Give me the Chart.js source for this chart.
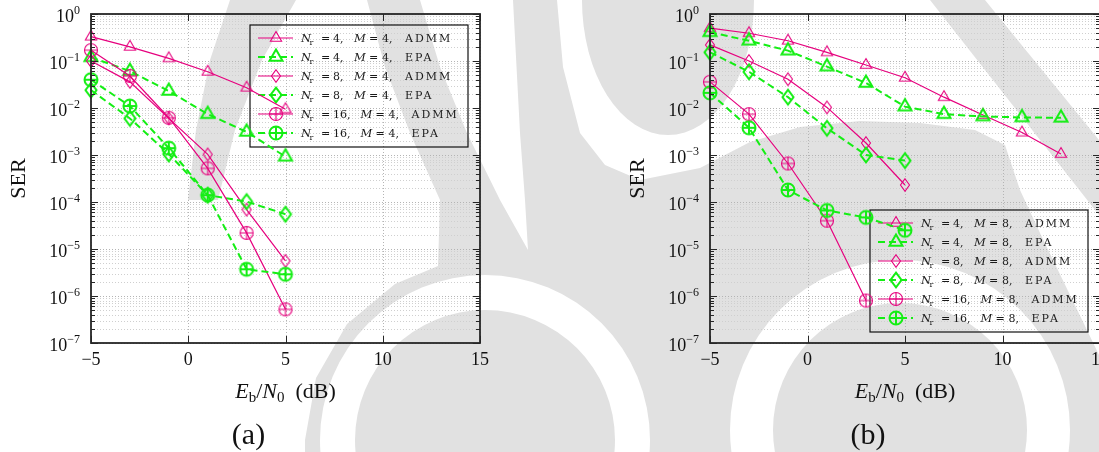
<!DOCTYPE html>
<html>
<head>
<meta charset="utf-8">
<script src="https://cdn.jsdelivr.net/npm/chart.js@4.4.1/dist/chart.umd.min.js"></script>
<style>
  html, body { margin: 0; padding: 0; background: #fff; overflow: hidden }
  body { position: relative; width: 1099px; height: 452px }
  canvas { position: absolute; top: 0 }
</style>
</head>
<body>
<canvas id="watermark" width="1099" height="452" style="left:0"></canvas>
<canvas id="chartA" width="549" height="452" style="left:0"></canvas>
<canvas id="chartB" width="560" height="452" style="left:549px"></canvas>
<script>
const xTicks = [-5, 0, 5, 10, 15]
const decades = [0, -1, -2, -3, -4, -5, -6, -7]

// (a) M = 4
const snrA = [-5, -3, -1, 1, 3, 5]
const serA4Admm = [0.33, 0.2, 0.114, 0.059, 0.027, 0.0094]
const serA4Epa = [0.12, 0.061, 0.023, 0.0074, 0.0031, 0.00092]
const serA8Admm = [0.1, 0.036, 0.006, 0.00103, 0.000069, 0.0000056]
const serA8Epa = [0.024, 0.006, 0.00105, 0.00014, 0.000102, 0.000055]
const serA16Admm = [0.17, 0.048, 0.0062, 0.00052, 0.000022, 0.00000052]
const serA16Epa = [0.04, 0.011, 0.0014, 0.00014, 0.0000037, 0.0000029]

// (b) M = 8
const snrB = [-5, -3, -1, 1, 3, 5, 7, 9, 11, 13]
const serB4Admm = [0.5, 0.39, 0.27, 0.153, 0.082, 0.044, 0.017, 0.0071, 0.003, 0.00105]
const serB4Epa = [0.41, 0.27, 0.166, 0.076, 0.034, 0.0107, 0.0074, 0.0066, 0.0063, 0.0062]
const serB8Admm = [0.22, 0.1, 0.041, 0.0103, 0.0018, 0.00023]
const serB8Epa = [0.153, 0.059, 0.017, 0.0037, 0.001, 0.00076]
const serB16Admm = [0.036, 0.0074, 0.00066, 0.00004, 0.0000008]
const serB16Epa = [0.021, 0.0038, 0.00018, 0.000066, 0.000047, 0.000025]

const MAGENTA = '#e6007e'
const GREEN = '#14ee14'
const SERIF = '"Liberation Serif", "DejaVu Serif", serif'
const LEGEND_FONT = '"DejaVu Serif", serif'

const panelA = [
  { nr: 4, m: 4, alg: 'ADMM', x: snrA, y: serA4Admm },
  { nr: 4, m: 4, alg: 'EPA', x: snrA, y: serA4Epa },
  { nr: 8, m: 4, alg: 'ADMM', x: snrA, y: serA8Admm },
  { nr: 8, m: 4, alg: 'EPA', x: snrA, y: serA8Epa },
  { nr: 16, m: 4, alg: 'ADMM', x: snrA, y: serA16Admm },
  { nr: 16, m: 4, alg: 'EPA', x: snrA, y: serA16Epa }
]
const panelB = [
  { nr: 4, m: 8, alg: 'ADMM', x: snrB, y: serB4Admm },
  { nr: 4, m: 8, alg: 'EPA', x: snrB, y: serB4Epa },
  { nr: 8, m: 8, alg: 'ADMM', x: snrB, y: serB8Admm },
  { nr: 8, m: 8, alg: 'EPA', x: snrB, y: serB8Epa },
  { nr: 16, m: 8, alg: 'ADMM', x: snrB, y: serB16Admm },
  { nr: 16, m: 8, alg: 'EPA', x: snrB, y: serB16Epa }
]

// marks: triangle for Nr=4, diamond for Nr=8, circled plus for Nr=16
const makeMark = (shape, color, lw) => {
  const c = document.createElement('canvas')
  c.width = 22
  c.height = 22
  const g = c.getContext('2d')
  g.translate(11, 11)
  g.strokeStyle = color
  g.lineWidth = lw
  g.beginPath()
  const thick = lw > 1.5
  if (shape === 4) {
    const r = thick ? 7.5 : 6.5
    g.moveTo(0, -r)
    g.lineTo(r * 0.866, r / 2)
    g.lineTo(-r * 0.866, r / 2)
    g.closePath()
  } else if (shape === 8) {
    const w = thick ? 5.5 : 4.5
    const h = thick ? 7.3 : 6.3
    g.moveTo(0, -h)
    g.lineTo(w, 0)
    g.lineTo(0, h)
    g.lineTo(-w, 0)
    g.closePath()
  } else {
    const r = 6.5
    g.arc(0, 0, r, 0, 2 * Math.PI)
    g.moveTo(-r, 0)
    g.lineTo(r, 0)
    g.moveTo(0, -r)
    g.lineTo(0, r)
  }
  g.stroke()
  return c
}

const styleOf = s => {
  const epa = s.alg === 'EPA'
  return {
    color: epa ? GREEN : MAGENTA,
    width: epa ? 2 : 1.2,
    dash: epa ? [7, 4] : [],
    mark: makeMark(s.nr, epa ? GREEN : MAGENTA, epa ? 2 : 1.1)
  }
}

const toDataset = (s, i, all) => {
  const st = styleOf(s)
  return {
    label: s.alg,
    data: s.y.map((v, k) => ({ x: s.x[k], y: v })),
    borderColor: st.color,
    borderWidth: st.width,
    borderDash: st.dash,
    pointStyle: st.mark,
    pointRadius: 7,
    pointHoverRadius: 7,
    tension: 0,
    fill: false,
    clip: false,
    order: all.length - i
  }
}

// draw a run of differently styled text pieces: [text, font, dy]
const drawRuns = (ctx, parts, x, y, align) => {
  let w = 0
  parts.forEach(p => { ctx.font = p[1]; w += ctx.measureText(p[0]).width })
  let cx = align === 'center' ? x - w / 2 : align === 'right' ? x - w : x
  ctx.textAlign = 'left'
  parts.forEach(p => {
    ctx.font = p[1]
    ctx.fillText(p[0], cx, y + (p[2] || 0))
    cx += ctx.measureText(p[0]).width
  })
}

const drawLegend = (ctx, box, list) => {
  ctx.save()
  ctx.setLineDash([])
  ctx.lineWidth = 1.2
  ctx.strokeStyle = '#111'
  ctx.strokeRect(box.x, box.y, box.w, box.h)
  list.forEach((s, i) => {
    const st = styleOf(s)
    const cy = Math.round(box.y + 12.7 + i * 19)
    ctx.strokeStyle = st.color
    ctx.lineWidth = st.width
    ctx.setLineDash(st.dash)
    ctx.beginPath()
    ctx.moveTo(box.x + 8, cy)
    ctx.lineTo(box.x + 43, cy)
    ctx.stroke()
    ctx.drawImage(st.mark, Math.round(box.x + 25.5) - 11, cy - 11)

    const x0 = box.x + 51
    const shift = (String(s.nr).length - 1) * 6.5
    const base = cy + 4
    ctx.fillStyle = '#1a1a1a'
    ctx.textAlign = 'left'
    ctx.letterSpacing = '0px'
    ctx.font = 'italic 11.5px ' + LEGEND_FONT
    ctx.fillText('N', x0, base)
    ctx.font = '8px ' + LEGEND_FONT
    ctx.fillText('r', x0 + 8.5, base + 2.5)
    ctx.font = '11px ' + LEGEND_FONT
    ctx.fillText('=', x0 + 20, base)
    ctx.fillText(s.nr + ',', x0 + 32, base)
    ctx.font = 'italic 11.5px ' + LEGEND_FONT
    ctx.fillText('M', x0 + 53 + shift, base)
    ctx.font = '11px ' + LEGEND_FONT
    ctx.fillText('=', x0 + 68 + shift, base)
    ctx.fillText(s.m + ',', x0 + 81 + shift, base)
    ctx.letterSpacing = '2px'
    ctx.fillText(s.alg, x0 + 104 + shift, base)
    ctx.letterSpacing = '0px'
  })
  ctx.restore()
}

const axesPlugin = {
  id: 'serAxes',
  beforeDatasetsDraw (chart) {
    const { ctx, chartArea: a, scales: { x, y } } = chart
    const cfg = chart.options.plugins.serPanel
    ctx.save()
    ctx.lineWidth = 1
    ctx.setLineDash([1, 2])
    // minor grid
    ctx.strokeStyle = '#cfcfcf'
    decades.slice(1).forEach(e => {
      for (let k = 2; k <= 9; k++) {
        const py = Math.round(y.getPixelForValue(k * Math.pow(10, e))) + 0.5
        ctx.beginPath()
        ctx.moveTo(a.left, py)
        ctx.lineTo(a.right, py)
        ctx.stroke()
      }
    })
    // major grid
    ctx.strokeStyle = '#b4b4b4'
    decades.forEach(e => {
      const py = Math.round(y.getPixelForValue(Math.pow(10, e))) + 0.5
      ctx.beginPath()
      ctx.moveTo(a.left, py)
      ctx.lineTo(a.right, py)
      ctx.stroke()
    })
    xTicks.forEach(v => {
      const px = Math.round(x.getPixelForValue(v)) + 0.5
      ctx.beginPath()
      ctx.moveTo(px, a.top)
      ctx.lineTo(px, a.bottom)
      ctx.stroke()
    })
    ctx.restore()

    const w = 218
    const h = 122
    const box = cfg.legendAt === 'top'
      ? { x: a.right - 12 - w, y: a.top + 11, w, h }
      : { x: a.right - 12 - w, y: a.bottom - 11 - h, w, h }
    drawLegend(ctx, box, cfg.series)
  },
  afterDatasetsDraw (chart) {
    const { ctx, chartArea: a, scales: { x, y } } = chart
    const cfg = chart.options.plugins.serPanel
    ctx.save()
    ctx.setLineDash([])
    ctx.strokeStyle = '#262626'
    ctx.lineWidth = 1
    const hline = (x1, x2, py) => {
      ctx.beginPath()
      ctx.moveTo(x1, py)
      ctx.lineTo(x2, py)
      ctx.stroke()
    }
    decades.forEach(e => {
      const py = Math.round(y.getPixelForValue(Math.pow(10, e))) + 0.5
      hline(a.left, a.left + 7, py)
      hline(a.right - 7, a.right, py)
      if (e === 0) return
      for (let k = 2; k <= 9; k++) {
        const my = Math.round(y.getPixelForValue(k * Math.pow(10, e))) + 0.5
        hline(a.left, a.left + 4, my)
        hline(a.right - 4, a.right, my)
      }
    })
    xTicks.forEach(v => {
      const px = Math.round(x.getPixelForValue(v)) + 0.5
      ctx.beginPath()
      ctx.moveTo(px, a.top)
      ctx.lineTo(px, a.top + 7)
      ctx.moveTo(px, a.bottom - 7)
      ctx.lineTo(px, a.bottom)
      ctx.stroke()
    })
    ctx.lineWidth = 1.8
    ctx.strokeRect(a.left, a.top, a.right - a.left, a.bottom - a.top)

    // tick labels
    ctx.fillStyle = '#111'
    ctx.textBaseline = 'alphabetic'
    decades.forEach(e => {
      const py = y.getPixelForValue(Math.pow(10, e))
      const ex = e === 0 ? '0' : '\u2212' + Math.abs(e)
      drawRuns(ctx, [['10', '18px ' + SERIF, 0], [ex, '12px ' + SERIF, -8]], a.left - 11, py + 8, 'right')
    })
    xTicks.forEach(v => {
      const px = x.getPixelForValue(v)
      const t = v < 0 ? '\u2212' + Math.abs(v) : String(v)
      drawRuns(ctx, [[t, '18px ' + SERIF, 0]], px, a.bottom + 22, 'center')
    })

    // axis titles and caption
    ctx.save()
    ctx.translate(a.left - 66.5, (a.top + a.bottom) / 2)
    ctx.rotate(-Math.PI / 2)
    drawRuns(ctx, [['SER', '22px ' + SERIF, 0]], 0, 0, 'center')
    ctx.restore()
    const mid = (a.left + a.right) / 2
    drawRuns(ctx, [
      ['E', 'italic 22px ' + SERIF, 0],
      ['b', '15px ' + SERIF, 4],
      ['/', '22px ' + SERIF, 0],
      ['N', 'italic 22px ' + SERIF, 0],
      ['0', '15px ' + SERIF, 4],
      ['\u2002(dB)', '22px ' + SERIF, 0]
    ], mid, 398, 'center')
    drawRuns(ctx, [[cfg.caption, '30px ' + SERIF, 0]], mid - 37, 444, 'center')
    ctx.restore()
  }
}

const makeChart = (id, list, cfg) => new Chart(document.getElementById(id), {
  type: 'line',
  data: { datasets: list.map(toDataset) },
  options: {
    responsive: false,
    animation: false,
    devicePixelRatio: 1,
    events: [],
    layout: { padding: { top: 14, right: cfg.padRight, left: 0, bottom: 0 } },
    plugins: {
      legend: { display: false },
      tooltip: { enabled: false },
      serPanel: { series: list, legendAt: cfg.legendAt, caption: cfg.caption }
    },
    scales: {
      x: {
        type: 'linear',
        min: -5,
        max: 15,
        ticks: { display: false },
        grid: { display: false },
        border: { display: false },
        afterFit: s => { s.height = 109 }
      },
      y: {
        type: 'logarithmic',
        min: 1e-7,
        max: 1,
        ticks: { display: false },
        grid: { display: false },
        border: { display: false },
        afterFit: s => { s.width = cfg.gutter }
      }
    }
  },
  plugins: [axesPlugin]
})

// faint background emblem behind both panels
const drawWatermark = () => {
  const g = document.getElementById('watermark').getContext('2d')
  const poly = pts => {
    g.beginPath()
    pts.forEach((p, i) => i ? g.lineTo(p[0], p[1]) : g.moveTo(p[0], p[1]))
    g.closePath()
    g.fill()
  }
  g.fillStyle = '#e1e1e1'
  poly([[367, 0], [420, 0], [440, 67], [467, 133], [500, 200], [528, 250], [525, 200], [520, 133],
    [513, 0], [557, 0], [563, 67], [580, 133], [605, 165], [640, 180], [700, 168], [750, 142],
    [800, 127], [860, 121], [920, 123], [975, 130], [1005, 145], [1020, 190], [1040, 233],
    [1070, 295], [1099, 355], [1099, 452], [305, 452], [305, 440], [316, 378], [347, 324],
    [395, 284], [438, 266], [440, 200], [410, 133], [385, 67]])
  poly([[930, 0], [985, 0], [1099, 140], [1099, 215]])
  poly([[230, 0], [296, 0], [262, 60], [235, 130], [218, 200], [188, 200], [196, 130], [210, 60]])
  g.beginPath()
  g.ellipse(668, 0, 86, 135, 0, 0, 2 * Math.PI)
  g.fill()
  const ring = (cx, cy, r1, r2) => {
    g.beginPath()
    g.arc(cx, cy, r2, 0, 2 * Math.PI)
    g.arc(cx, cy, r1, 0, 2 * Math.PI, true)
    g.fillStyle = '#fff'
    g.fill()
  }
  ring(485, 440, 130, 165)
  ring(900, 430, 127, 170)
}

drawWatermark()
makeChart('chartA', panelA, { gutter: 91, padRight: 69, legendAt: 'top', caption: '(a)' })
makeChart('chartB', panelB, { gutter: 161, padRight: 9, legendAt: 'bottom', caption: '(b)' })
</script>
</body>
</html>
